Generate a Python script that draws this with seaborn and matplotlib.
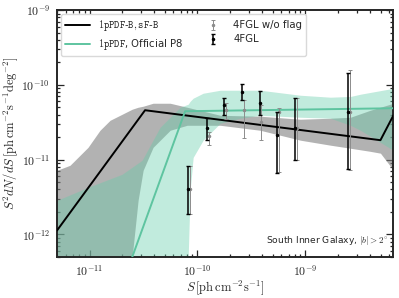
import matplotlib
matplotlib.use("Agg")
import numpy as np
import pandas as pd
import matplotlib.pyplot as plt
import seaborn as sns
from matplotlib.ticker import FixedLocator, FuncFormatter, NullFormatter

sns.set_theme(style="ticks")
plt.rcParams['font.family'] = ['DejaVu Sans']
plt.rcParams['mathtext.fontset'] = 'cm'

# --- broken power-law fits (flux S, S^2 dN/dS) ---
line_b_s = [5.0e-12, 3.27e-11, 4.97e-9, 6.56e-9]
line_b_f = [1.13e-12, 4.58e-11, 1.82e-11, 3.92e-11]
line_p8_s = [2.48e-11, 7.69e-11, 6.56e-9]
line_p8_f = [4.92e-13, 4.44e-11, 4.87e-11]

# --- uncertainty bands ---
band_b_s = [4.99e-12, 6.59e-12, 9.68e-12, 1.25e-11, 1.55e-11, 1.92e-11, 2.48e-11, 2.82e-11,
            3.14e-11, 3.88e-11, 5.59e-11, 8.03e-11, 1.63e-10, 3.82e-10, 8.99e-10, 1.71e-9,
            2.62e-9, 4.01e-9, 4.97e-9, 6.56e-9]
band_b_hi = [7.2e-12, 8.4e-12, 1.46e-11, 2.47e-11, 3.36e-11, 3.92e-11, 4.72e-11, 5.02e-11,
             5.18e-11, 5.68e-11, 5.68e-11, 5.02e-11, 3.92e-11, 3.81e-11, 3.47e-11, 3.58e-11,
             3.69e-11, 4.58e-11, 5.02e-11, 5.68e-11]
band_b_lo = [7e-14, 7e-14, 7e-14, 7e-14, 7e-14, 1.3e-13, 4.9e-13, 2.85e-12,
             7.2e-12, 1.46e-11, 2.47e-11, 2.88e-11, 2.88e-11, 2.47e-11, 1.82e-11, 1.56e-11,
             1.42e-11, 1.29e-11, 1.22e-11, 7.2e-12]

band_p8_s = [4.99e-12, 9.68e-12, 2.0e-11, 3.07e-11, 4.51e-11, 6.92e-11, 8.21e-11, 8.57e-11,
             9.13e-11, 1.13e-10, 1.63e-10, 2.49e-10, 3.82e-10, 8.99e-10, 1.71e-9, 2.62e-9,
             3.24e-9, 6.56e-9]
band_p8_hi = [2.85e-12, 4.26e-12, 6.36e-12, 9.8e-12, 2.71e-11, 5.02e-11, 5.51e-11, 6.04e-11,
              6.63e-11, 7.73e-11, 8.48e-11, 8.48e-11, 8.48e-11, 7.27e-11, 6.84e-11, 7.0e-11,
              7.5e-11, 9.0e-11]
band_p8_lo = [7e-14, 7e-14, 7e-14, 7e-14, 7e-14, 7e-14, 4.9e-13, 3.9e-12,
              1.07e-11, 1.82e-11, 3.07e-11, 3.58e-11, 3.92e-11, 3.69e-11, 3.58e-11, 2.88e-11,
              2.47e-11, 1.33e-11]

# --- 4FGL source counts ---
fgl_s = [8.2e-11, 1.23e-10, 1.77e-10, 2.6e-10, 3.77e-10, 5.5e-10, 8.07e-10, 2.5e-9]
fgl_f = [4.1e-12, 2.63e-11, 5.35e-11, 7.98e-11, 5.7e-11, 2.12e-11, 2.63e-11, 4.3e-11]
fgl_hi = [8.1e-12, 3.58e-11, 6.6e-11, 1.02e-10, 8.2e-11, 4.3e-11, 6.64e-11, 1.43e-10]
fgl_lo = [1.85e-12, 1.82e-11, 3.93e-11, 6.24e-11, 3.93e-11, 6.56e-12, 9.8e-12, 7.43e-12]

nf_s = [8.5e-11, 1.28e-10, 1.84e-10, 2.7e-10, 3.92e-10, 5.7e-10, 8.4e-10, 2.6e-9]
nf_f = [4.1e-12, 2.06e-11, 4.6e-11, 4.6e-11, 3.2e-11, 4.3e-11, 2.63e-11, 4.3e-11]
nf_hi = [8.1e-12, 2.32e-11, 5.7e-11, 6.24e-11, 5.35e-11, 4.87e-11, 6.64e-11, 1.57e-10]
nf_lo = [1.85e-12, 1.56e-11, 3.47e-11, 1.93e-11, 1.82e-11, 6.8e-12, 9.8e-12, 7.2e-12]

# tick positions
x_major = [1e-11, 1e-10, 1e-9]
y_major = [1e-12, 1e-11, 1e-10, 1e-9]

green = '#5ec4a0'
band_green = '#66cdaa'

fig = plt.figure(figsize=(3.99, 2.98), dpi=100)
ax = fig.add_axes([0.143, 0.138, 0.842, 0.828])
ax.set(xscale='log', yscale='log')

ax.fill_between(band_b_s, band_b_lo, band_b_hi, color='0.5', alpha=0.6, lw=0, zorder=1)
ax.fill_between(band_p8_s, band_p8_lo, band_p8_hi, color=band_green, alpha=0.4, lw=0, zorder=2)

sns.lineplot(x=line_b_s, y=line_b_f, color='black', lw=1.4, sort=False,
             label=r'$\mathtt{1pPDF}$-$\mathtt{B,sF}$-$\mathtt{B}$', ax=ax, zorder=4)
sns.lineplot(x=line_p8_s, y=line_p8_f, color=green, lw=1.4, sort=False,
             label=r'$\mathtt{1pPDF}$, Official P8', ax=ax, zorder=4)

nf_err = [np.array(nf_f) - np.array(nf_lo), np.array(nf_hi) - np.array(nf_f)]
ax.errorbar(nf_s, nf_f, yerr=nf_err, fmt='.', color='0.55', ms=3, lw=0.7,
            capsize=1.5, capthick=0.7, label='4FGL w/o flag', zorder=5)
fgl_err = [np.array(fgl_f) - np.array(fgl_lo), np.array(fgl_hi) - np.array(fgl_f)]
ax.errorbar(fgl_s, fgl_f, yerr=fgl_err, fmt='.', color='black', ms=3, lw=1.1,
            capsize=1.5, capthick=1.0, label='4FGL', zorder=6)

ax.set_xlim(5e-12, 6.5e-9)
ax.set_ylim(5e-13, 1e-9)

# minor ticks 2..9 in each decade that falls in view
def minors(lo_exp, hi_exp, vmin, vmax):
    vals = [m * 10.0 ** e for e in range(lo_exp, hi_exp) for m in range(2, 10)]
    return [v for v in vals if vmin <= v <= vmax]

fmt = FuncFormatter(lambda v, p: r'$10^{%d}$' % int(round(np.log10(v))))
ax.xaxis.set_major_locator(FixedLocator(x_major))
ax.yaxis.set_major_locator(FixedLocator(y_major))
ax.xaxis.set_minor_locator(FixedLocator(minors(-12, -8, 5e-12, 6.5e-9)))
ax.yaxis.set_minor_locator(FixedLocator(minors(-13, -9, 5e-13, 1e-9)))
for axis in (ax.xaxis, ax.yaxis):
    axis.set_major_formatter(fmt)
    axis.set_minor_formatter(NullFormatter())

ax.tick_params(which='both', direction='in', top=True, right=True, labelsize=8.5, width=0.9)
ax.tick_params(which='major', length=5, pad=5)
ax.tick_params(which='minor', length=2.5)
for sp in ax.spines.values():
    sp.set_linewidth(1.4)

ax.set_xlabel(r'$S\,[\mathrm{ph\,cm^{-2}s^{-1}}]$', fontsize=9, labelpad=0)
ax.set_ylabel(r'$S^2 dN/dS\,[\mathrm{ph\,cm^{-2}s^{-1}deg^{-2}}]$', fontsize=9, labelpad=1)

ax.text(0.988, 0.04, r'South Inner Galaxy, $|b| > 2^{\circ}$', transform=ax.transAxes,
        ha='right', va='bottom', fontsize=6.6)

ax.legend(loc='upper left', ncol=2, fontsize=7.3, frameon=True, fancybox=True,
          handlelength=2.4, columnspacing=1.8, borderaxespad=0.4, framealpha=1,
          edgecolor='0.85', labelspacing=0.4)

fig.savefig('out.png', dpi=100)
